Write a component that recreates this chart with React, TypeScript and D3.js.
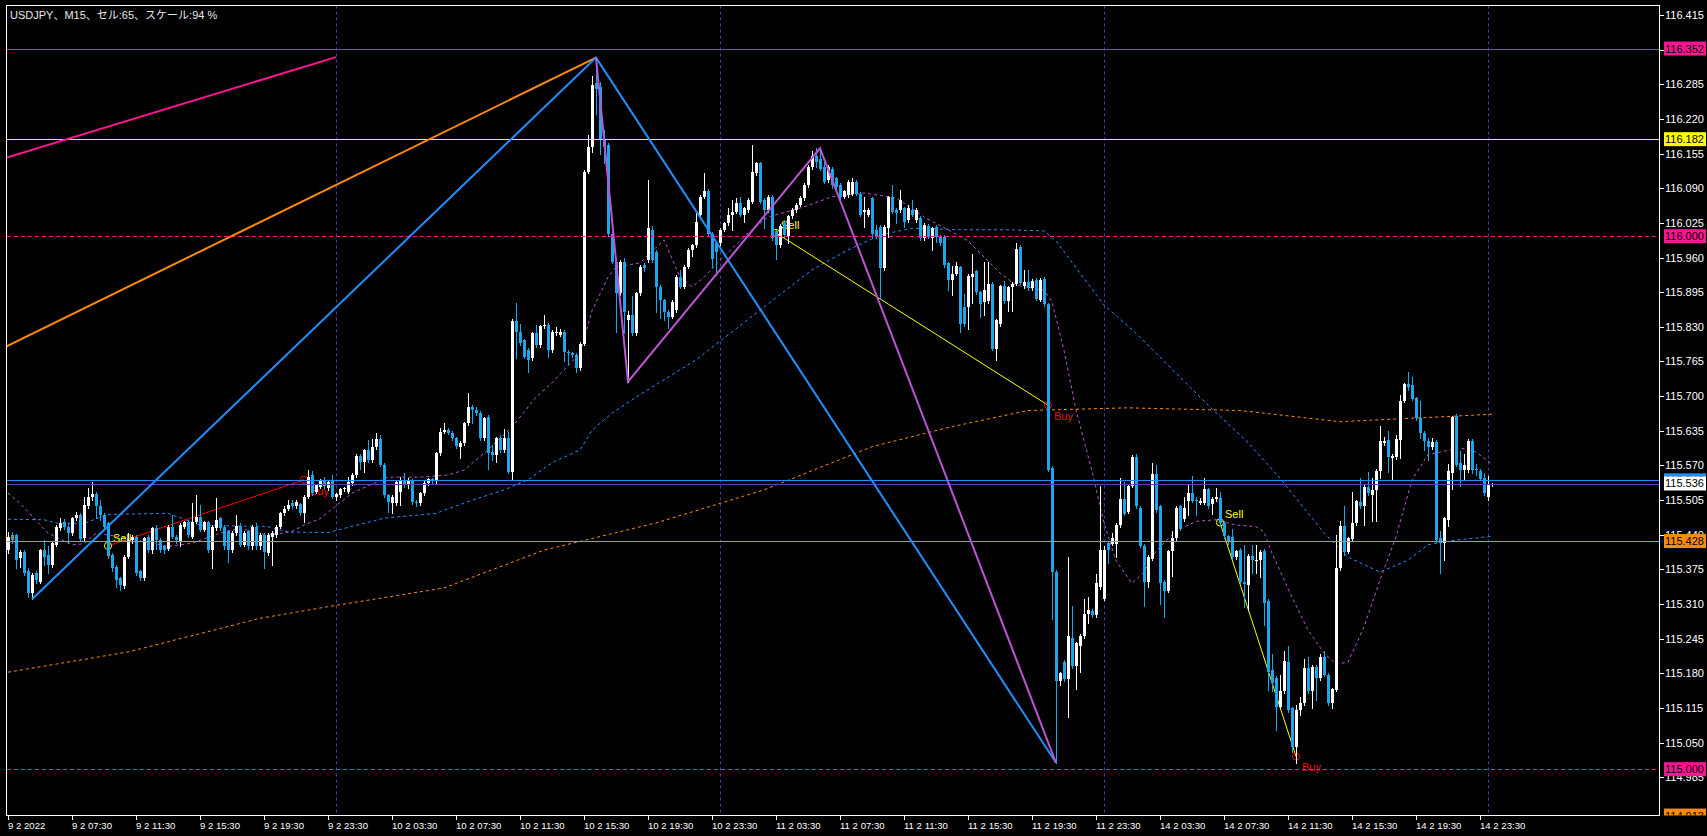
import * as d3 from "d3";
import React from "react";

const WIDTH = 1707;
const HEIGHT = 836;
const PLOT = { left: 6.5, top: 5.5, right: 1659.5, bottom: 815.5 };
const FONT = "'Liberation Sans', Arial, 'Noto Sans CJK JP', sans-serif";

// USDJPY M15, bar 0 = 9 2 03:30
const opens = [
  115.411, 115.440, 115.439, 115.396, 115.408, 115.371, 115.330, 115.368, 115.352, 115.411,
  115.402, 115.383, 115.421, 115.452, 115.463, 115.455, 115.444, 115.471, 115.477, 115.433,
  115.494, 115.510, 115.516, 115.493, 115.477, 115.461, 115.402, 115.380, 115.358, 115.344,
  115.399, 115.430, 115.436, 115.371, 115.358, 115.436, 115.411, 115.452, 115.430, 115.418,
  115.414, 115.455, 115.436, 115.427, 115.455, 115.464, 115.436, 115.464, 115.474, 115.449,
  115.463, 115.411, 115.452, 115.471, 115.455, 115.446, 115.411, 115.443, 115.456, 115.421,
  115.446, 115.418, 115.455, 115.418, 115.439, 115.405, 115.436, 115.439, 115.455, 115.480,
  115.489, 115.500, 115.494, 115.497, 115.480, 115.511, 115.552, 115.521, 115.530, 115.540,
  115.527, 115.541, 115.510, 115.514, 115.525, 115.521, 115.537, 115.552, 115.588, 115.577,
  115.598, 115.580, 115.604, 115.620, 115.571, 115.514, 115.499, 115.499, 115.520, 115.542,
  115.533, 115.542, 115.502, 115.499, 115.518, 115.537, 115.544, 115.540, 115.593, 115.633,
  115.637, 115.631, 115.621, 115.605, 115.612, 115.649, 115.680, 115.674, 115.668, 115.621,
  115.661, 115.596, 115.590, 115.621, 115.599, 115.621, 115.558, 115.840, 115.821, 115.805,
  115.786, 115.771, 115.818, 115.796, 115.831, 115.834, 115.786, 115.818, 115.815, 115.821,
  115.783, 115.780, 115.777, 115.752, 115.798, 116.121, 116.168, 116.287, 116.280, 116.182,
  116.171, 116.005, 115.952, 115.893, 115.952, 115.843, 115.852, 115.818, 115.893, 115.946,
  115.955, 116.012, 115.971, 115.905, 115.880, 115.858, 115.849, 115.862, 115.924, 115.905,
  115.943, 115.974, 115.983, 116.040, 116.074, 116.084, 116.005, 115.987, 115.987, 116.012,
  116.024, 116.040, 116.046, 116.063, 116.040, 116.049, 116.065, 116.118, 116.137, 116.068,
  116.049, 116.074, 116.009, 115.983, 116.024, 116.000, 116.037, 116.049, 116.059, 116.071,
  116.096, 116.130, 116.150, 116.145, 116.130, 116.105, 116.127, 116.109, 116.096, 116.074,
  116.077, 116.080, 116.102, 116.080, 116.046, 116.040, 116.071, 116.012, 116.018, 115.940,
  116.015, 116.073, 116.049, 116.049, 116.052, 116.030, 116.049, 116.030, 116.034, 115.996,
  116.019, 115.996, 116.018, 115.999, 115.999, 115.949, 115.918, 115.930, 115.942, 115.868,
  115.867, 115.923, 115.935, 115.895, 115.876, 115.878, 115.911, 115.789, 115.835, 115.906,
  115.879, 115.904, 115.911, 115.980, 115.906, 115.914, 115.902, 115.918, 115.881, 115.920,
  115.872, 115.566, 115.370, 115.165, 115.202, 115.169, 115.246, 115.193, 115.232, 115.250,
  115.292, 115.296, 115.289, 115.342, 115.320, 115.425, 115.423, 115.423, 115.458, 115.507,
  115.483, 115.532, 115.585, 115.490, 115.419, 115.352, 115.395, 115.553, 115.493, 115.352,
  115.335, 115.409, 115.433, 115.493, 115.469, 115.504, 115.519, 115.505, 115.500, 115.500,
  115.525, 115.497, 115.507, 115.509, 115.462, 115.437, 115.435, 115.398, 115.412, 115.352,
  115.346, 115.400, 115.393, 115.393, 115.410, 115.316, 115.186, 115.171, 115.117, 115.146,
  115.202, 115.114, 115.042, 115.111, 115.124, 115.189, 115.146, 115.192, 115.171, 115.211,
  115.177, 115.124, 115.149, 115.377, 115.456, 115.408, 115.431, 115.461, 115.502, 115.494,
  115.530, 115.515, 115.524, 115.560, 115.612, 115.618, 115.583, 115.585, 115.617, 115.691,
  115.722, 115.721, 115.696, 115.658, 115.631, 115.615, 115.604, 115.614, 115.433, 115.425,
  115.468, 115.556, 115.663, 115.575, 115.561, 115.561, 115.616, 115.563, 115.560, 115.546,
  115.511, 115.533,
];

const highs = [
  115.445, 115.445, 115.442, 115.411, 115.411, 115.377, 115.368, 115.371, 115.414, 115.430,
  115.418, 115.427, 115.458, 115.471, 115.470, 115.461, 115.474, 115.483, 115.480, 115.511,
  115.527, 115.539, 115.521, 115.505, 115.480, 115.464, 115.405, 115.383, 115.360, 115.402,
  115.443, 115.440, 115.440, 115.374, 115.436, 115.440, 115.455, 115.458, 115.433, 115.421,
  115.458, 115.477, 115.440, 115.461, 115.466, 115.468, 115.499, 115.514, 115.496, 115.466,
  115.466, 115.458, 115.508, 115.474, 115.458, 115.449, 115.446, 115.477, 115.461, 115.446,
  115.449, 115.458, 115.461, 115.443, 115.443, 115.443, 115.446, 115.458, 115.483, 115.493,
  115.505, 115.506, 115.505, 115.500, 115.514, 115.561, 115.560, 115.536, 115.545, 115.548,
  115.542, 115.552, 115.519, 115.528, 115.530, 115.549, 115.556, 115.591, 115.591, 115.601,
  115.618, 115.619, 115.631, 115.627, 115.574, 115.517, 115.514, 115.542, 115.549, 115.555,
  115.546, 115.545, 115.505, 115.521, 115.540, 115.547, 115.546, 115.596, 115.640, 115.649,
  115.640, 115.634, 115.624, 115.615, 115.652, 115.705, 115.684, 115.680, 115.672, 115.661,
  115.664, 115.608, 115.624, 115.627, 115.639, 115.633, 115.845, 115.874, 115.836, 115.808,
  115.790, 115.821, 115.833, 115.834, 115.852, 115.837, 115.824, 115.830, 115.826, 115.824,
  115.786, 115.783, 115.780, 115.801, 116.124, 116.190, 116.300, 116.335, 116.290, 116.200,
  116.175, 116.008, 115.960, 115.955, 115.960, 115.860, 115.887, 115.896, 115.946, 115.950,
  116.105, 116.020, 115.975, 115.908, 115.883, 115.861, 115.880, 115.927, 115.937, 115.946,
  115.977, 115.986, 116.046, 116.078, 116.118, 116.088, 116.008, 115.990, 116.015, 116.027,
  116.052, 116.068, 116.071, 116.074, 116.055, 116.071, 116.171, 116.140, 116.140, 116.071,
  116.077, 116.077, 116.012, 116.022, 116.030, 116.040, 116.052, 116.062, 116.075, 116.099,
  116.133, 116.160, 116.165, 116.163, 116.143, 116.133, 116.130, 116.112, 116.099, 116.087,
  116.105, 116.109, 116.105, 116.083, 116.074, 116.053, 116.074, 116.021, 116.021, 116.021,
  116.076, 116.096, 116.052, 116.087, 116.055, 116.058, 116.068, 116.052, 116.037, 116.024,
  116.022, 116.018, 116.021, 116.002, 116.002, 115.952, 115.945, 115.952, 115.945, 115.892,
  115.929, 115.966, 115.937, 115.898, 115.952, 115.952, 115.914, 115.845, 115.909, 115.916,
  115.907, 115.914, 115.987, 115.983, 115.937, 115.937, 115.919, 115.921, 115.921, 115.923,
  115.875, 115.569, 115.373, 115.183, 115.205, 115.398, 115.306, 115.239, 115.253, 115.320,
  115.324, 115.300, 115.366, 115.532, 115.418, 115.428, 115.444, 115.461, 115.546, 115.539,
  115.535, 115.590, 115.592, 115.493, 115.422, 115.401, 115.574, 115.571, 115.496, 115.355,
  115.412, 115.447, 115.493, 115.496, 115.511, 115.536, 115.550, 115.510, 115.508, 115.546,
  115.528, 115.510, 115.528, 115.521, 115.465, 115.440, 115.451, 115.412, 115.415, 115.421,
  115.403, 115.421, 115.421, 115.411, 115.413, 115.319, 115.217, 115.174, 115.177, 115.221,
  115.231, 115.117, 115.120, 115.136, 115.206, 115.211, 115.195, 115.195, 115.217, 115.221,
  115.180, 115.153, 115.440, 115.465, 115.493, 115.436, 115.521, 115.506, 115.546, 115.533,
  115.558, 115.546, 115.563, 115.644, 115.624, 115.635, 115.591, 115.627, 115.703, 115.725,
  115.745, 115.735, 115.699, 115.691, 115.634, 115.621, 115.621, 115.617, 115.446, 115.474,
  115.573, 115.663, 115.666, 115.597, 115.591, 115.619, 115.619, 115.572, 115.563, 115.555,
  115.550, 115.537,
];

const lows = [
  115.405, 115.425, 115.377, 115.380, 115.364, 115.324, 115.319, 115.350, 115.349, 115.383,
  115.368, 115.380, 115.418, 115.449, 115.450, 115.424, 115.440, 115.468, 115.428, 115.430,
  115.490, 115.505, 115.471, 115.468, 115.452, 115.396, 115.371, 115.342, 115.336, 115.340,
  115.396, 115.425, 115.365, 115.355, 115.355, 115.408, 115.405, 115.414, 115.408, 115.405,
  115.411, 115.433, 115.424, 115.418, 115.452, 115.436, 115.433, 115.461, 115.446, 115.446,
  115.408, 115.377, 115.449, 115.449, 115.414, 115.389, 115.408, 115.440, 115.418, 115.418,
  115.414, 115.414, 115.414, 115.414, 115.377, 115.402, 115.383, 115.436, 115.452, 115.477,
  115.486, 115.490, 115.490, 115.477, 115.464, 115.508, 115.515, 115.518, 115.528, 115.527,
  115.524, 115.508, 115.505, 115.511, 115.522, 115.518, 115.534, 115.549, 115.564, 115.558,
  115.577, 115.577, 115.601, 115.568, 115.511, 115.483, 115.480, 115.496, 115.495, 115.530,
  115.528, 115.498, 115.494, 115.495, 115.515, 115.534, 115.537, 115.537, 115.590, 115.630,
  115.628, 115.618, 115.603, 115.583, 115.609, 115.646, 115.649, 115.665, 115.618, 115.618,
  115.564, 115.580, 115.577, 115.596, 115.596, 115.555, 115.543, 115.771, 115.796, 115.771,
  115.746, 115.768, 115.793, 115.793, 115.828, 115.774, 115.783, 115.815, 115.812, 115.765,
  115.761, 115.774, 115.746, 115.749, 115.795, 116.118, 116.158, 116.230, 116.155, 116.137,
  116.000, 115.949, 115.821, 115.890, 115.818, 115.727, 115.815, 115.815, 115.890, 115.935,
  115.952, 115.952, 115.858, 115.846, 115.843, 115.827, 115.846, 115.858, 115.902, 115.902,
  115.940, 115.962, 115.980, 116.037, 116.071, 116.002, 115.943, 115.927, 115.984, 116.009,
  116.021, 116.012, 116.043, 116.037, 116.027, 116.046, 116.062, 116.115, 116.062, 116.015,
  116.046, 115.993, 115.958, 115.980, 115.999, 115.987, 116.034, 116.046, 116.056, 116.068,
  116.093, 116.127, 116.130, 116.124, 116.099, 116.102, 116.090, 116.090, 116.068, 116.071,
  116.074, 116.077, 116.077, 116.037, 116.018, 116.037, 115.996, 115.996, 115.883, 115.937,
  115.999, 116.043, 116.024, 116.046, 116.018, 116.027, 116.037, 116.027, 115.993, 115.993,
  115.996, 115.974, 115.990, 115.984, 115.943, 115.899, 115.890, 115.927, 115.821, 115.832,
  115.825, 115.874, 115.892, 115.849, 115.853, 115.875, 115.786, 115.768, 115.832, 115.875,
  115.860, 115.860, 115.908, 115.910, 115.903, 115.899, 115.899, 115.880, 115.878, 115.869,
  115.559, 115.282, 115.012, 115.158, 115.166, 115.098, 115.190, 115.151, 115.183, 115.247,
  115.275, 115.285, 115.286, 115.339, 115.317, 115.387, 115.420, 115.398, 115.455, 115.476,
  115.480, 115.529, 115.490, 115.416, 115.306, 115.341, 115.392, 115.483, 115.310, 115.285,
  115.332, 115.363, 115.430, 115.448, 115.466, 115.476, 115.501, 115.476, 115.497, 115.497,
  115.490, 115.479, 115.504, 115.459, 115.434, 115.423, 115.395, 115.395, 115.349, 115.305,
  115.299, 115.368, 115.368, 115.361, 115.271, 115.149, 115.146, 115.074, 115.114, 115.143,
  115.108, 115.033, 115.011, 115.102, 115.121, 115.143, 115.114, 115.130, 115.168, 115.174,
  115.121, 115.114, 115.146, 115.374, 115.402, 115.405, 115.428, 115.458, 115.490, 115.458,
  115.515, 115.465, 115.465, 115.546, 115.609, 115.558, 115.543, 115.582, 115.583, 115.688,
  115.712, 115.692, 115.655, 115.621, 115.599, 115.581, 115.601, 115.427, 115.369, 115.393,
  115.456, 115.525, 115.568, 115.532, 115.543, 115.558, 115.555, 115.552, 115.542, 115.515,
  115.506, 115.532,
];

const closes = [
  115.436, 115.430, 115.393, 115.408, 115.368, 115.330, 115.364, 115.355, 115.411, 115.399,
  115.383, 115.424, 115.455, 115.461, 115.455, 115.443, 115.471, 115.477, 115.431, 115.496,
  115.511, 115.516, 115.493, 115.477, 115.455, 115.400, 115.377, 115.355, 115.346, 115.399,
  115.430, 115.436, 115.368, 115.358, 115.433, 115.411, 115.452, 115.430, 115.411, 115.411,
  115.455, 115.436, 115.430, 115.458, 115.463, 115.439, 115.464, 115.474, 115.449, 115.463,
  115.411, 115.455, 115.468, 115.452, 115.418, 115.411, 115.443, 115.456, 115.421, 115.443,
  115.418, 115.455, 115.418, 115.439, 115.408, 115.439, 115.443, 115.455, 115.480, 115.489,
  115.496, 115.493, 115.502, 115.480, 115.511, 115.549, 115.518, 115.533, 115.541, 115.532,
  115.539, 115.511, 115.516, 115.525, 115.527, 115.539, 115.552, 115.588, 115.577, 115.598,
  115.580, 115.605, 115.620, 115.571, 115.514, 115.502, 115.511, 115.539, 115.542, 115.533,
  115.542, 115.502, 115.499, 115.518, 115.537, 115.544, 115.540, 115.593, 115.633, 115.637,
  115.631, 115.621, 115.606, 115.612, 115.649, 115.680, 115.674, 115.668, 115.621, 115.658,
  115.593, 115.590, 115.621, 115.599, 115.621, 115.558, 115.840, 115.821, 115.799, 115.774,
  115.768, 115.818, 115.796, 115.831, 115.834, 115.786, 115.821, 115.821, 115.821, 115.783,
  115.780, 115.777, 115.752, 115.798, 116.121, 116.168, 116.284, 116.277, 116.180, 116.168,
  116.005, 115.952, 115.893, 115.952, 115.858, 115.852, 115.818, 115.893, 115.943, 115.940,
  116.015, 115.955, 115.905, 115.880, 115.858, 115.849, 115.877, 115.924, 115.905, 115.943,
  115.974, 115.983, 116.027, 116.074, 116.084, 116.005, 115.958, 115.971, 116.012, 116.024,
  116.040, 116.046, 116.063, 116.040, 116.052, 116.068, 116.121, 116.137, 116.065, 116.049,
  116.074, 115.996, 115.983, 116.019, 116.002, 116.037, 116.049, 116.059, 116.071, 116.096,
  116.130, 116.150, 116.140, 116.127, 116.102, 116.130, 116.096, 116.093, 116.074, 116.084,
  116.102, 116.102, 116.080, 116.040, 116.049, 116.050, 116.005, 115.999, 115.940, 116.018,
  116.073, 116.046, 116.043, 116.068, 116.027, 116.052, 116.040, 116.049, 115.996, 116.021,
  115.999, 116.015, 115.999, 115.987, 115.946, 115.918, 115.930, 115.945, 115.835, 115.835,
  115.926, 115.930, 115.895, 115.872, 115.899, 115.911, 115.789, 115.842, 115.906, 115.878,
  115.904, 115.911, 115.976, 115.913, 115.914, 115.902, 115.916, 115.883, 115.918, 115.872,
  115.562, 115.370, 115.165, 115.180, 115.169, 115.250, 115.193, 115.236, 115.250, 115.292,
  115.298, 115.289, 115.350, 115.412, 115.412, 115.412, 115.433, 115.458, 115.507, 115.479,
  115.532, 115.585, 115.493, 115.419, 115.352, 115.398, 115.553, 115.486, 115.349, 115.335,
  115.409, 115.433, 115.490, 115.451, 115.490, 115.518, 115.504, 115.504, 115.504, 115.525,
  115.493, 115.507, 115.511, 115.462, 115.437, 115.426, 115.398, 115.409, 115.352, 115.347,
  115.400, 115.393, 115.393, 115.408, 115.311, 115.183, 115.161, 115.117, 115.146, 115.203,
  115.111, 115.042, 115.111, 115.125, 115.189, 115.146, 115.192, 115.171, 115.211, 115.177,
  115.124, 115.150, 115.377, 115.456, 115.408, 115.433, 115.461, 115.503, 115.493, 115.530,
  115.518, 115.524, 115.560, 115.615, 115.615, 115.585, 115.588, 115.620, 115.691, 115.722,
  115.718, 115.695, 115.658, 115.631, 115.615, 115.604, 115.614, 115.430, 115.424, 115.471,
  115.560, 115.660, 115.571, 115.561, 115.571, 115.616, 115.561, 115.561, 115.545, 115.518,
  115.533, 115.536,
];

// moving averages (bar index, price)
const maFastIdx = [0, 3, 10, 16, 19, 22, 28, 40, 46, 53, 58, 65, 71, 74, 78, 86, 95, 103, 110, 114, 120, 126, 132, 136, 143, 146, 150, 152, 158, 164, 168, 171, 174, 178, 185, 190, 199, 206, 214, 222, 229, 236, 240, 248, 252, 259, 261, 264, 267, 271, 274, 277, 281, 284, 287, 292, 297, 302, 307, 312, 314, 316, 321, 325, 329, 332, 335, 339, 343, 347, 351, 355, 358, 363, 367, 371];
const maFastVal = [115.518, 115.499, 115.443, 115.421, 115.423, 115.443, 115.436, 115.418, 115.424, 115.443, 115.452, 115.439, 115.446, 115.458, 115.470, 115.518, 115.548, 115.548, 115.552, 115.561, 115.599, 115.642, 115.698, 115.725, 115.781, 115.860, 115.923, 115.942, 115.950, 115.993, 115.923, 115.905, 115.923, 115.955, 116.006, 116.036, 116.055, 116.074, 116.081, 116.072, 116.036, 116.008, 115.991, 115.931, 115.908, 115.899, 115.877, 115.786, 115.674, 115.559, 115.462, 115.391, 115.349, 115.370, 115.409, 115.447, 115.465, 115.468, 115.458, 115.455, 115.445, 115.405, 115.323, 115.261, 115.218, 115.197, 115.201, 115.267, 115.355, 115.436, 115.543, 115.590, 115.595, 115.603, 115.595, 115.572];

const maMidIdx = [0, 9, 12, 19, 25, 40, 48, 65, 70, 80, 94, 107, 115, 124, 130, 136, 143, 146, 151, 157, 172, 189, 201, 210, 218, 226, 238, 250, 259, 262, 274, 282, 292, 301, 310, 318, 329, 335, 343, 350, 355, 362, 371];
const maMidVal = [115.469, 115.468, 115.462, 115.461, 115.478, 115.480, 115.458, 115.455, 115.445, 115.444, 115.471, 115.480, 115.502, 115.524, 115.543, 115.575, 115.599, 115.636, 115.668, 115.698, 115.768, 115.867, 115.937, 115.974, 116.002, 116.015, 116.012, 116.012, 116.010, 115.991, 115.871, 115.818, 115.743, 115.676, 115.613, 115.546, 115.443, 115.398, 115.370, 115.392, 115.421, 115.430, 115.437];

const maSlowIdx = [0, 30, 63, 80, 109, 134, 162, 189, 216, 235, 255, 280, 308, 333, 358, 371];
const maSlowVal = [115.182, 115.220, 115.283, 115.305, 115.340, 115.411, 115.462, 115.524, 115.605, 115.641, 115.673, 115.678, 115.673, 115.652, 115.661, 115.666];

// zigzags and trend lines
const zigzagBlueIdx = [6, 147, 262];
const zigzagBlueVal = [115.319, 116.335, 115.012];
const zigzagPurpleIdx = [147, 155, 203, 262];
const zigzagPurpleVal = [116.335, 115.727, 116.165, 115.012];
const trendOrangeIdx = [-0.5, 147];
const trendOrangeVal = [115.793, 116.335];
const trendPinkIdx = [-0.5, 82];
const trendPinkVal = [116.147, 116.336];

// horizontal levels
const levelPrices = [116.352, 116.182, 116.0, 115.542, 115.536, 115.428, 115.0, 114.913];
const levelColors = ["#ff1493", "#ffff00", "#ff1493", "#1e90ff", "#5546a6", "#ff8c00", "#ff1493", "#ff8c00"];
const levelDashed = [false, false, true, false, false, false, true, false];
const levelBoxFill = ["#ff1493", "#ffff00", "#ff1493", "#1e90ff", "#ffffff", "#ff8c00", "#ff1493", "#ff8c00"];

// trade history
const sellIdx = [25, 192, 303];
const sellPrice = [115.419, 116.006, 115.463];
const buyIdx = [74, 260, 322];
const buyPrice = [115.543, 115.683, 115.024];
const tradeColors = ["#ff0000", "#ffff00", "#ffff00"];

const separatorBars = [82, 178, 274, 370];

const priceTicks = [
  "116.415", "116.350", "116.285", "116.220", "116.155", "116.090", "116.025", "115.960",
  "115.895", "115.830", "115.765", "115.700", "115.635", "115.570", "115.505", "115.440",
  "115.375", "115.310", "115.245", "115.180", "115.115", "115.050", "114.985",
];

const timeLabels = [
  "9 2 2022", "9 2 07:30", "9 2 11:30", "9 2 15:30", "9 2 19:30", "9 2 23:30",
  "10 2 03:30", "10 2 07:30", "10 2 11:30", "10 2 15:30", "10 2 19:30", "10 2 23:30",
  "11 2 03:30", "11 2 07:30", "11 2 11:30", "11 2 15:30", "11 2 19:30", "11 2 23:30",
  "14 2 03:30", "14 2 07:30", "14 2 11:30", "14 2 15:30", "14 2 19:30", "14 2 23:30",
];

const BULL = "#ffffff";
const BEAR = "#1aa7ec";

export default function App() {
  const n = closes.length;
  const x = d3.scaleLinear().domain([0, n - 1]).range([8, 8 + 4 * (n - 1)]);
  const y = d3.scaleLinear().domain([114.985, 116.415]).range([777.2, 15]);

  const line = d3
    .line<[number, number]>()
    .x((d) => x(d[0]))
    .y((d) => y(d[1]));
  const zip = (a: number[], b: number[]) => a.map((v, i) => [v, b[i]] as [number, number]);

  const candles = d3.range(n).map((i) => ({
    i,
    o: opens[i],
    h: highs[i],
    l: lows[i],
    c: closes[i],
  }));

  return (
    <svg
      width={WIDTH}
      height={HEIGHT}
      style={{ position: "absolute", left: 0, top: 0, display: "block" }}
      fontFamily={FONT}
    >
      <defs>
        <clipPath id="plot-clip">
          <rect x={PLOT.left} y={PLOT.top} width={PLOT.right - PLOT.left} height={PLOT.bottom - PLOT.top} />
        </clipPath>
        <clipPath id="axis-clip">
          <rect x={1660} y={0} width={WIDTH - 1660} height={PLOT.bottom} />
        </clipPath>
      </defs>
      <rect width={WIDTH} height={HEIGHT} fill="#000" />

      <g clipPath="url(#plot-clip)">
        {/* period separators */}
        {separatorBars.map((b) => (
          <line
            key={b}
            x1={Math.round(x(b)) + 0.5}
            x2={Math.round(x(b)) + 0.5}
            y1={PLOT.top}
            y2={PLOT.bottom}
            stroke="#483fa0"
            strokeDasharray="3 3"
          />
        ))}

        {/* moving averages */}
        <path d={line(zip(maSlowIdx, maSlowVal)) ?? ""} fill="none" stroke="#ff8c00" strokeDasharray="3 3" />
        <path d={line(zip(maMidIdx, maMidVal)) ?? ""} fill="none" stroke="#1e90ff" strokeDasharray="3 3" />
        <path d={line(zip(maFastIdx, maFastVal)) ?? ""} fill="none" stroke="#ba55d3" strokeDasharray="3 3" />

        {/* trades */}
        {sellIdx.map((s, k) => {
          const sx = x(s);
          const sy = y(sellPrice[k]);
          const bx = x(buyIdx[k]);
          const by = y(buyPrice[k]);
          return (
            <g key={k}>
              <line x1={sx} y1={sy} x2={bx} y2={by} stroke={tradeColors[k]} strokeWidth={1} />
              <circle cx={sx} cy={sy} r={3.6} fill="none" stroke="#ffff00" />
              <circle cx={bx} cy={by} r={3.6} fill="none" stroke="#ff0000" />
              <text x={sx + 5} y={sy - 4} fill="#ffff00" fontSize={11}>
                Sell
              </text>
              <text x={bx + 6} y={by + 15} fill="#ff0000" fontSize={11}>
                Buy
              </text>
            </g>
          );
        })}

        {/* candles */}
        {candles.map((d) => {
          const cx = Math.round(x(d.i));
          const up = d.c >= d.o;
          const color = up ? BULL : BEAR;
          const top = Math.round(y(Math.max(d.o, d.c)));
          const bot = Math.round(y(Math.min(d.o, d.c)));
          return (
            <g key={d.i} shapeRendering="crispEdges">
              <line
                x1={cx + 0.5}
                x2={cx + 0.5}
                y1={Math.round(y(d.h))}
                y2={Math.round(y(d.l)) + 1}
                stroke={color}
              />
              <rect x={cx - 1} y={top} width={3} height={Math.max(1, bot - top)} fill={color} />
            </g>
          );
        })}

        {/* horizontal levels */}
        {levelPrices.map((p, k) => (
          <line
            key={p}
            x1={PLOT.left}
            x2={PLOT.right}
            y1={Math.round(y(p)) + 0.5}
            y2={Math.round(y(p)) + 0.5}
            stroke={levelColors[k]}
            strokeDasharray={levelDashed[k] ? "4 3" : undefined}
            shapeRendering="crispEdges"
          />
        ))}

        {/* trend lines and zigzags */}
        <path d={line(zip(trendPinkIdx, trendPinkVal)) ?? ""} fill="none" stroke="#ff1493" strokeWidth={2} />
        <path d={line(zip(trendOrangeIdx, trendOrangeVal)) ?? ""} fill="none" stroke="#ff8c00" strokeWidth={2} />
        <path d={line(zip(zigzagBlueIdx, zigzagBlueVal)) ?? ""} fill="none" stroke="#1e90ff" strokeWidth={2} />
        <path d={line(zip(zigzagPurpleIdx, zigzagPurpleVal)) ?? ""} fill="none" stroke="#ba55d3" strokeWidth={2} />
      </g>

      {/* frame */}
      <rect
        x={PLOT.left}
        y={PLOT.top}
        width={PLOT.right - PLOT.left}
        height={PLOT.bottom - PLOT.top}
        fill="none"
        stroke="#ffffff"
        shapeRendering="crispEdges"
      />

      {/* price axis */}
      {priceTicks.map((t) => {
        const ty = Math.round(y(+t)) + 0.5;
        return (
          <g key={t}>
            <line x1={1660} x2={1664} y1={ty} y2={ty} stroke="#fff" shapeRendering="crispEdges" />
            <text x={1665} y={ty} dy="0.36em" fill="#fff" fontSize={11}>
              {t}
            </text>
          </g>
        );
      })}

      <g clipPath="url(#axis-clip)">
        {levelPrices.map((p, k) => {
          const ly = y(p);
          return (
            <g key={p}>
              <rect x={1664} y={ly - 7} width={42} height={14} fill={levelBoxFill[k]} />
              <text x={1665} y={ly} dy="0.36em" fill="#000" fontSize={11}>
                {p.toFixed(3)}
              </text>
            </g>
          );
        })}
      </g>

      {/* time axis */}
      {timeLabels.map((t, k) => {
        const tx = Math.round(x(k * 16)) + 0.5;
        return (
          <g key={t}>
            <line x1={tx} x2={tx} y1={PLOT.bottom} y2={PLOT.bottom + 4} stroke="#fff" shapeRendering="crispEdges" />
            <text x={tx - 0.5} y={829} fill="#fff" fontSize={9.6}>
              {t}
            </text>
          </g>
        );
      })}

      <text x={10} y={19} fill="#e8e8e8" fontSize={11}>
        USDJPY、M15、セル:65、スケール:94 %
      </text>
    </svg>
  );
}
